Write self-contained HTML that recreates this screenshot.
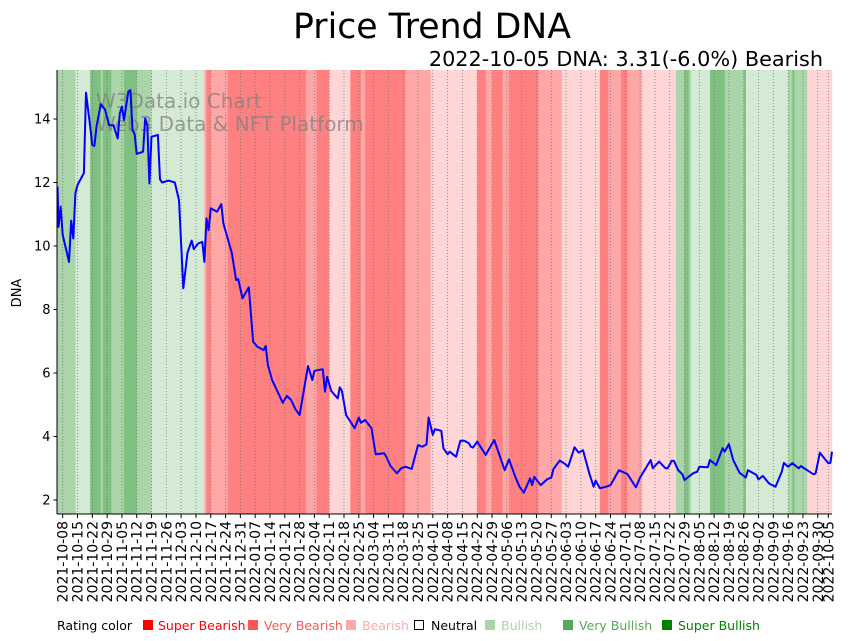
<!DOCTYPE html>
<html><head><meta charset="utf-8"><style>
html,body{margin:0;padding:0;background:#fff;width:851px;height:641px;overflow:hidden}
svg text{font-family:"DejaVu Sans","Liberation Sans",sans-serif}
</style></head><body>
<svg id="chart" width="851" height="641" xmlns="http://www.w3.org/2000/svg">
<text x="432" y="38" font-size="34.7" text-anchor="middle" fill="#000">Price Trend DNA</text>
<text x="823" y="66" font-size="20.8" text-anchor="end" fill="#000">2022-10-05 DNA: 3.31(-6.0%) Bearish</text>
<g id="bands"></g>
<g id="grid"></g>
<text x="96" y="108" font-size="20" fill="#808080" fill-opacity="0.75">W3Data.io Chart</text>
<text x="96" y="131" font-size="20" fill="#808080" fill-opacity="0.75">Web3 Data &amp; NFT Platform</text>
<path id="line" fill="none" stroke="#0000ff" stroke-width="2" stroke-linejoin="round"></path>
<line x1="57" y1="70" x2="57" y2="514" stroke="#000" stroke-width="1"/>
<line x1="57" y1="514" x2="832" y2="514" stroke="#000" stroke-width="1"/>
<g id="yticks"></g>
<g id="xticks"></g>
<text transform="translate(21,293) rotate(-90)" font-size="13" text-anchor="middle">DNA</text>
<g font-size="12.5">
<text x="57" y="630" fill="#000">Rating color</text>
<rect x="143" y="620" width="10" height="10" fill="#ff0000"/>
<text x="158" y="630" fill="#ff0000">Super Bearish</text>
<rect x="248" y="620" width="10" height="10" fill="#ff5555"/>
<text x="264" y="630" fill="#ff5555">Very Bearish</text>
<rect x="346" y="620" width="10" height="10" fill="#ffaaaa"/>
<text x="362" y="630" fill="#ffaaaa">Bearish</text>
<rect x="414.5" y="620.5" width="9" height="9" fill="#fff" stroke="#000"/>
<text x="431" y="630" fill="#000">Neutral</text>
<rect x="485" y="620" width="10" height="10" fill="#aad4aa"/>
<text x="501" y="630" fill="#aad4aa">Bullish</text>
<rect x="563" y="620" width="10" height="10" fill="#55aa55"/>
<text x="579" y="630" fill="#55aa55">Very Bullish</text>
<rect x="662" y="620" width="10" height="10" fill="#008000"/>
<text x="678" y="630" fill="#008000">Super Bullish</text>
</g>
</svg>
<script>
// day offsets from 2021-10-08
const priceDays = [-3,-2,-1,0,3,4,5,6,7,10,11,13,14,15,16,18,20,22,24,26,27,28,29,31,32,33,34,35,38,39,40,41,42,45,46,47,50,53,55,57,59,61,62,64,66,67,68,69,70,73,75,76,80,82,83,85,88,90,92,95,96,97,99,102,104,106,108,110,112,116,118,119,123,124,125,127,130,131,132,134,138,140,141,143,146,148,152,153,155,158,160,162,165,168,170,172,173,175,176,179,180,182,183,186,188,189,190,192,193,194,196,200,204,209,211,214,216,218,221,222,223,226,229,231,232,235,237,239,242,244,246,249,251,252,254,257,259,263,267,271,273,278,279,282,285,286,288,289,291,293,294,298,300,301,305,306,309,312,313,315,317,320,323,324,328,329,331,334,337,340,341,343,345,348,349,352,355,356,358,362,363,364];
const priceValues = [11.87,10.6,11.24,10.35,9.5,10.8,10.24,11.66,11.92,12.3,14.83,13.76,13.18,13.15,13.76,14.47,14.3,13.8,13.8,13.39,14.18,14.39,13.97,14.86,14.91,13.65,13.53,12.9,12.97,14.02,13.8,11.97,13.44,13.5,12.1,12.0,12.06,12.0,11.45,8.67,9.79,10.17,9.9,10.08,10.13,9.5,10.87,10.5,11.19,11.08,11.32,10.71,9.77,8.93,8.96,8.35,8.7,6.99,6.83,6.72,6.85,6.25,5.78,5.36,5.06,5.28,5.15,4.86,4.68,6.22,5.78,6.07,6.12,5.41,5.88,5.43,5.2,5.55,5.44,4.68,4.26,4.6,4.43,4.52,4.26,3.44,3.47,3.36,3.07,2.84,3.0,3.05,2.98,3.73,3.68,3.75,4.6,4.05,4.23,4.18,3.63,3.44,3.52,3.36,3.86,3.87,3.86,3.79,3.68,3.65,3.84,3.42,3.89,2.94,3.28,2.73,2.42,2.23,2.68,2.47,2.73,2.47,2.65,2.71,2.97,3.24,3.16,3.05,3.66,3.49,3.57,2.84,2.42,2.61,2.37,2.42,2.47,2.94,2.82,2.4,2.71,3.26,3.0,3.21,3.0,3.0,3.24,3.23,2.94,2.81,2.63,2.84,2.89,3.05,3.03,3.26,3.1,3.63,3.52,3.76,3.26,2.86,2.71,2.94,2.79,2.65,2.76,2.52,2.42,2.89,3.17,3.05,3.16,3.0,3.07,2.94,2.81,2.84,3.49,3.16,3.17,3.52,3.34];
// rating bands: start day, end day, level (-3 super bearish .. 3 super bullish)
const bandStarts = [-4,6,13,18,19,23,29,35,42,67,68,70,78,115,120,126,136,141,143,162,174,196,200,203,208,211,225,236,254,258,264,267,274,290,294,296,297,306,313,322,323,343,345,346,352];
const bandEnds   = [6,13,18,19,23,29,35,42,67,68,70,78,115,120,126,136,141,143,162,174,196,200,203,208,211,225,236,254,258,264,267,274,290,294,296,297,306,313,322,323,343,345,346,352,366];
const bandLevels = [2,1,3,2,3,2,3,2,1,-2,-3,-2,-3,-2,-3,-1,-3,-2,-3,-2,-1,-3,-2,-3,-2,-3,-2,-1,-3,-2,-3,-2,-1,2,3,2,1,3,2,3,1,2,3,2,-1];
const yTickValues = [2,4,6,8,10,12,14];
const xTickLabels = ["2021-10-08","2021-10-15","2021-10-22","2021-10-29","2021-11-05","2021-11-12","2021-11-19","2021-11-26","2021-12-03","2021-12-10","2021-12-17","2021-12-24","2021-12-31","2022-01-07","2022-01-14","2022-01-21","2022-01-28","2022-02-04","2022-02-11","2022-02-18","2022-02-25","2022-03-04","2022-03-11","2022-03-18","2022-03-25","2022-04-01","2022-04-08","2022-04-15","2022-04-22","2022-04-29","2022-05-06","2022-05-13","2022-05-20","2022-05-27","2022-06-03","2022-06-10","2022-06-17","2022-06-24","2022-07-01","2022-07-08","2022-07-15","2022-07-22","2022-07-29","2022-08-05","2022-08-12","2022-08-19","2022-08-26","2022-09-02","2022-09-09","2022-09-16","2022-09-23","2022-09-30","2022-10-05"];

const NS="http://www.w3.org/2000/svg";
const PL=57.5, PR=832, PT=70, PB=514;
const base=Date.UTC(2021,9,8);
function dayOf(s){const p=s.split('-');return (Date.UTC(+p[0],+p[1]-1,+p[2])-base)/86400000;}
function xs(d){return Math.max(PL,Math.min(PR,62.7+2.115*d));}
function ys(v){return 500-(v-2)*31.75;}
const colors={"-3":"#ff8080","-2":"#ffa6a6","-1":"#ffd5d5","0":"#ffffff","1":"#d4ead4","2":"#a9d5a9","3":"#80c080"};

const bands=document.getElementById('bands');
for(let i=0;i<bandLevels.length;i++){
  const r=document.createElementNS(NS,'rect');
  const x1=xs(bandStarts[i]), x2=xs(bandEnds[i]);
  r.setAttribute('x',x1);r.setAttribute('y',PT);
  r.setAttribute('width',Math.max(0,x2-x1+0.3));r.setAttribute('height',PB-PT);
  r.setAttribute('fill',colors[bandLevels[i]]);
  
  
  bands.appendChild(r);
}
const grid=document.getElementById('grid'), xt=document.getElementById('xticks');
xTickLabels.forEach(lbl=>{
  const x=xs(dayOf(lbl));
  const g=document.createElementNS(NS,'line');
  g.setAttribute('x1',x);g.setAttribute('x2',x);g.setAttribute('y1',PT);g.setAttribute('y2',PB);
  g.setAttribute('stroke','#777');g.setAttribute('stroke-width','0.8');g.setAttribute('stroke-dasharray','1,2');
  
  
  grid.appendChild(g);
  const t=document.createElementNS(NS,'line');
  t.setAttribute('x1',x);t.setAttribute('x2',x);t.setAttribute('y1',PB);t.setAttribute('y2',PB+4);t.setAttribute('stroke','#000');
  
  
  xt.appendChild(t);
  const tx=document.createElementNS(NS,'text');
  tx.setAttribute('transform','translate('+(x+5)+','+(PB+7)+') rotate(-90)');
  tx.setAttribute('text-anchor','end');tx.setAttribute('font-size','14');
  tx.textContent=lbl;
  
  
  xt.appendChild(tx);
});
const yt=document.getElementById('yticks');
yTickValues.forEach(v=>{
  const y=ys(v);
  const t=document.createElementNS(NS,'line');
  t.setAttribute('x1',PL-4);t.setAttribute('x2',PL);t.setAttribute('y1',y);t.setAttribute('y2',y);t.setAttribute('stroke','#000');
  
  
  yt.appendChild(t);
  const tx=document.createElementNS(NS,'text');
  tx.setAttribute('x',PL-7);tx.setAttribute('y',y+4.5);tx.setAttribute('text-anchor','end');tx.setAttribute('font-size','13');
  tx.textContent=v;
  
  
  yt.appendChild(tx);
});
let d='';
priceDays.forEach((dd,i)=>{d+=(i?'L':'M')+xs(dd).toFixed(1)+','+ys(priceValues[i]).toFixed(1);});
document.getElementById('line').setAttribute('d',d);
</script>
</body></html>
